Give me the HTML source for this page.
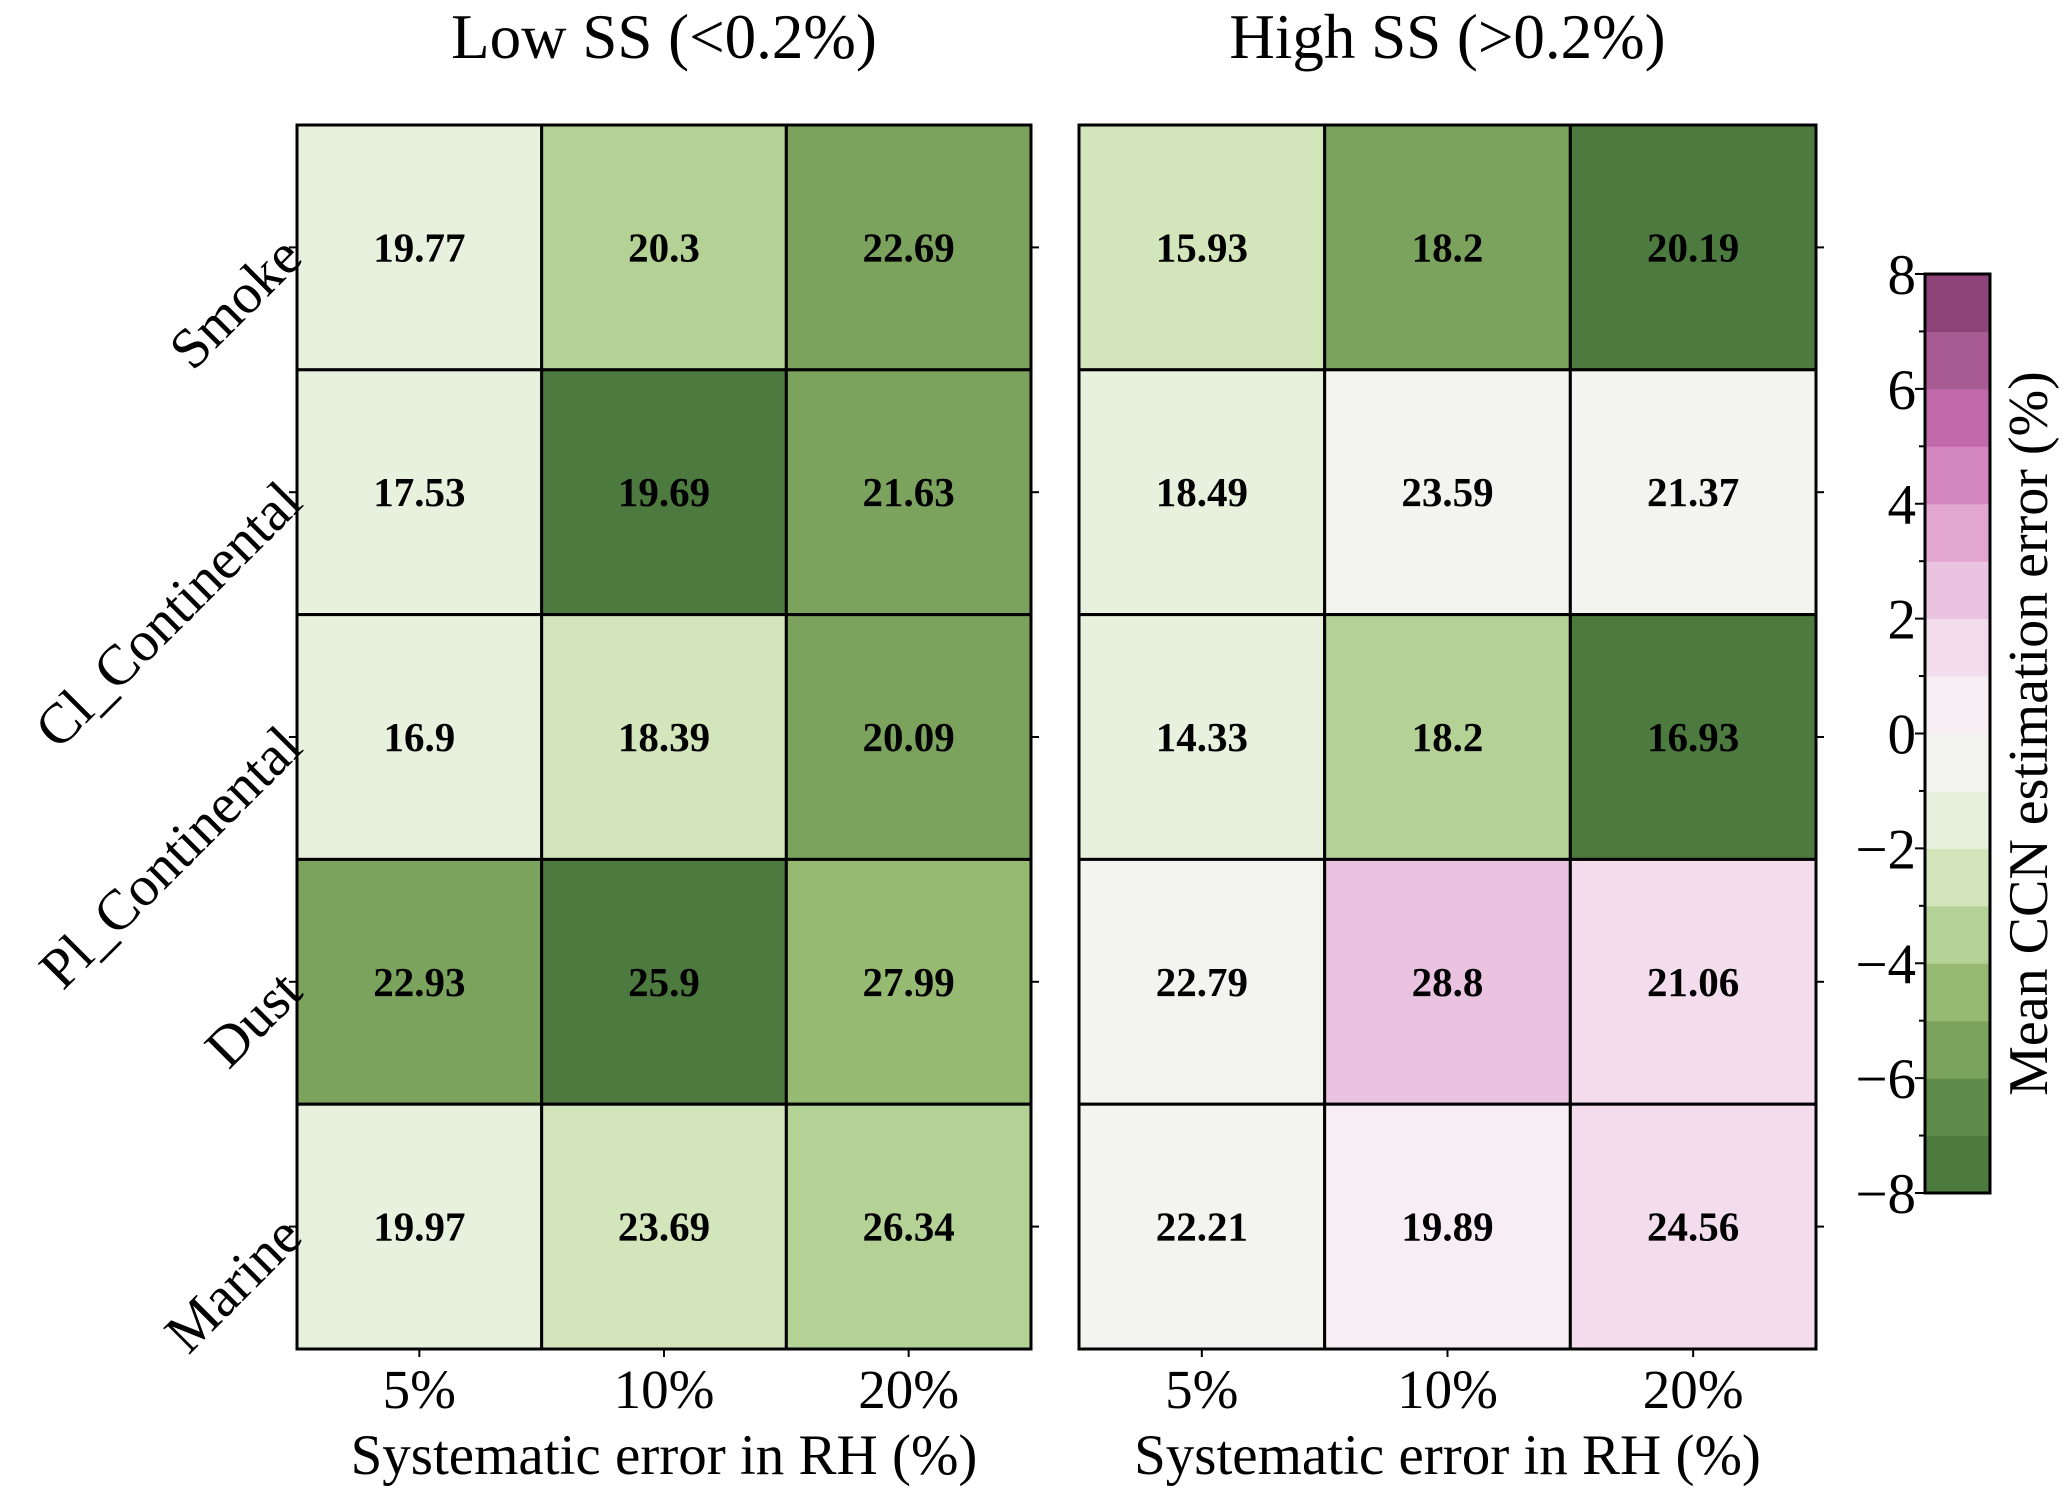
<!DOCTYPE html>
<html><head><meta charset="utf-8"><style>
body{margin:0;background:#fff}
svg text{font-family:"Liberation Serif",serif;fill:#000}
</style></head><body>
<svg id="c" width="2067" height="1499" xmlns="http://www.w3.org/2000/svg"></svg>
<script>
const rows=["Smoke","Cl_Continental","Pl_Continental","Dust","Marine"];
const cols=["5%","10%","20%"];
const leftLabels=[[19.77,20.3,22.69],[17.53,19.69,21.63],[16.9,18.39,20.09],[22.93,25.9,27.99],[19.97,23.69,26.34]];
const rightLabels=[[15.93,18.2,20.19],[18.49,23.59,21.37],[14.33,18.2,16.93],[22.79,28.8,21.06],[22.21,19.89,24.56]];
const leftVals=[[-1.5,-3.5,-5.5],[-1.5,-7.5,-5.5],[-1.5,-2.5,-5.5],[-5.5,-7.5,-4.5],[-1.5,-2.5,-3.5]];
const rightVals=[[-2.5,-5.5,-7.5],[-1.5,-0.5,-0.5],[-1.5,-3.5,-7.5],[-0.5,2.5,1.5],[-0.5,0.5,1.5]];
const cbTicks=[-8,-6,-4,-2,0,2,4,6,8];
const palette=["#4d7a3e","#5e8c4a","#7ba35e","#97ba73","#b4d196","#d3e5bb","#e8f1de","#f3f4ef","#f7eef3","#f3dcec","#eac3e1","#e2a6d1","#d486c0","#c06aac","#a85a92","#8e4479"];
const NS="http://www.w3.org/2000/svg";
const svg=document.getElementById('c');
function mk(t,a,txt){const e=document.createElementNS(NS,t);for(const k in a)e.setAttribute(k,a[k]);if(txt!==undefined)e.textContent=txt;svg.appendChild(e);return e;}
function color(v){let i=Math.floor(v+8);i=Math.max(0,Math.min(15,i));return palette[i];}
const yTop=125,yBot=1349,rh=(yBot-yTop)/5;
function panel(x0,x1,vals,labels,title,id){
  const cw=(x1-x0)/3;
  const t=mk('text',{x:(x0+x1)/2,y:58,'font-size':63,'text-anchor':'middle'},title);
  
  
  for(let r=0;r<5;r++)for(let c=0;c<3;c++){
    const rc=mk('rect',{x:x0+c*cw,y:yTop+r*rh,width:cw,height:rh,fill:color(vals[r][c]),stroke:'#000','stroke-width':3});
    
    
    const tx=mk('text',{x:x0+(c+0.5)*cw,y:yTop+(r+0.5)*rh+14,'font-size':41,'font-weight':'bold','text-anchor':'middle'},String(labels[r][c]));
    
    
  }
  const fr=mk('rect',{x:x0,y:yTop,width:x1-x0,height:yBot-yTop,fill:'none',stroke:'#000','stroke-width':3});
  
  
  for(let r=0;r<5;r++){const y=yTop+(r+0.5)*rh;mk('line',{x1:x1,x2:x1+8,y1:y,y2:y,stroke:'#000','stroke-width':2});}
  for(let c=0;c<3;c++){
    const x=x0+(c+0.5)*cw;
    mk('line',{x1:x,x2:x,y1:yBot,y2:yBot+8,stroke:'#000','stroke-width':2});
    const l=mk('text',{x:x,y:1408,'font-size':55,'text-anchor':'middle'},cols[c]);
    
    
  }
  const xt=mk('text',{x:(x0+x1)/2,y:1474,'font-size':57,'text-anchor':'middle'},'Systematic error in RH (%)');
  
  
}
panel(297,1031,leftVals,leftLabels,'Low SS (<0.2%)','left-panel');
panel(1079,1816,rightVals,rightLabels,'High SS (>0.2%)','right-panel');
for(let r=0;r<5;r++){
  const y=yTop+(r+0.5)*rh;
  mk('line',{x1:289,x2:297,y1:y,y2:y,stroke:'#000','stroke-width':2});
  const l=mk('text',{x:292,y:y+18,'font-size':57,'text-anchor':'end',transform:`rotate(-45 292 ${y})`},rows[r]);
  
  
}
const cx0=1925,cx1=1990,cy0=274,cy1=1193;
function cy(v){return cy1-(v+8)/16*(cy1-cy0);}
for(let i=0;i<16;i++){
  const b=mk('rect',{x:cx0,y:cy(i-7),width:cx1-cx0,height:cy(i-8)-cy(i-7)+0.5,fill:palette[i]});
  
  
}
mk('rect',{x:cx0,y:cy0,width:cx1-cx0,height:cy1-cy0,fill:'none',stroke:'#000','stroke-width':3});
for(let v=-8;v<=8;v++){mk('line',{x1:cx0-(v%2===0?10:6),x2:cx0,y1:cy(v),y2:cy(v),stroke:'#000','stroke-width':2});}
cbTicks.forEach(v=>{
  const t=mk('text',{x:1916,y:cy(v)+20,'font-size':57,'text-anchor':'end'},v<0?'\u2212'+(-v):String(v));
  
  
});
const ct=mk('text',{x:2047,y:(cy0+cy1)/2,'font-size':56,'text-anchor':'middle',transform:`rotate(-90 2047 ${(cy0+cy1)/2})`},'Mean CCN estimation error (%)');


</script>
</body></html>
